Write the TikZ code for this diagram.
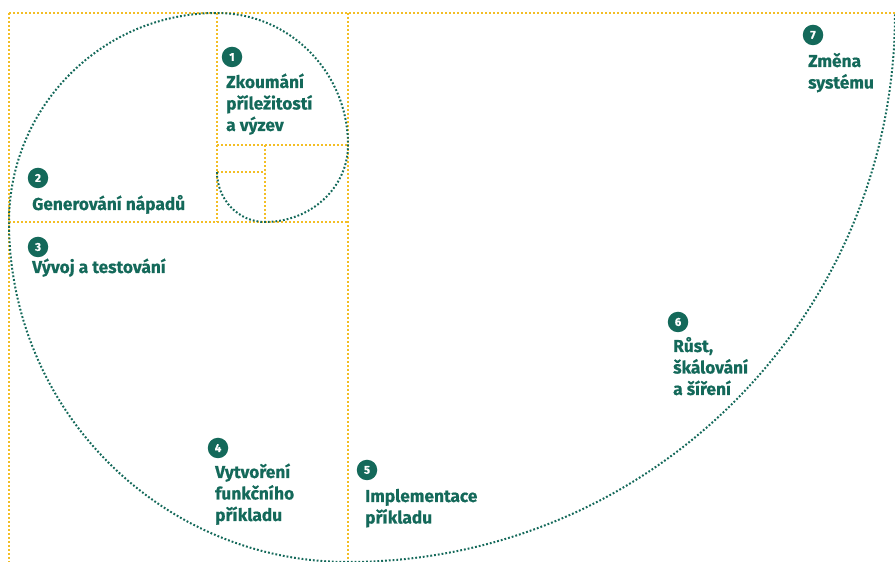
\documentclass[tikz,border=0pt]{standalone}
\usepackage{fontspec}
\setmainfont{Fira Sans}[BoldFont={Fira Sans Bold},BoldFeatures={FakeBold=0.6}]
\definecolor{dkgreen}{HTML}{14695A}
\definecolor{gold}{HTML}{F3BE25}
\newcommand{\lines}[1]{\begin{tabular}[t]{@{}l@{}}#1\end{tabular}}
\begin{document}
\begin{tikzpicture}[x=1pt,y=1pt,
  guide/.style={draw=gold, line width=2pt, dash pattern=on 1.8pt off 2.2pt},
  spiral/.style={draw=dkgreen, line width=2pt, dash pattern=on 1.8pt off 2.0pt},
  badge/.style={circle, fill=dkgreen, text=white, minimum size=20.5pt, inner sep=0pt, font=\bfseries\fontsize{11.5}{11.5}\selectfont},
  lbl/.style={anchor=base west, text=dkgreen, inner sep=0pt, font=\bfseries\fontsize{17.3}{21.5}\selectfont}]
\useasboundingbox (0,0) rectangle (895,562);
% guide coordinates
\coordinate (TL) at (9,549);
\coordinate (TR) at (895,549);
\coordinate (BL) at (9,0);
\coordinate (T217) at (217,549);
\coordinate (M217) at (217,340);
\coordinate (T348) at (348,549);
\coordinate (B348) at (348,0);
\coordinate (L340) at (9,340);
\coordinate (R340) at (348,340);
\coordinate (HaL) at (217,417);
\coordinate (HaR) at (348,417);
\coordinate (VbT) at (265,417);
\coordinate (VbB) at (265,340);
\coordinate (HcL) at (217,390);
\coordinate (HcR) at (265,390);
% guides
\draw[guide] (TL) -- (TR);
\draw[guide] (TL) -- (BL);
\draw[guide] (T217) -- (M217);
\draw[guide] (T348) -- (B348);
\draw[guide] (L340) -- (R340);
\draw[guide] (HaL) -- (HaR);
\draw[guide] (VbT) -- (VbB);
\draw[guide] (HcL) -- (HcR);
% spiral
\draw[spiral] (HcL)
  arc[start angle=180,end angle=270,x radius=48,y radius=50]
  arc[start angle=270,end angle=360,x radius=83,y radius=77]
  arc[start angle=0,end angle=90,x radius=131,y radius=132]
  arc[start angle=90,end angle=180,x radius=208,y radius=209]
  arc[start angle=180,end angle=270,x radius=339,y radius=340]
  arc[start angle=270,end angle=360,x radius=547,y radius=549];
% labels
\node[badge] (b1) at (232,505) {1};
\node[lbl] (t1) at (226,474) {\lines{Zkoumání\\příležitostí\\a výzev}};
\node[badge] (b2) at (38,384) {2};
\node[lbl] (t2) at (32,352) {Generování nápadů};
\node[badge] (b3) at (38,315) {3};
\node[lbl] (t3) at (32,289) {Vývoj a testování};
\node[badge] (b4) at (218,114) {4};
\node[lbl] (t4) at (215,84) {\lines{Vytvoření\\funkčního\\příkladu}};
\node[badge] (b5) at (367,92) {5};
\node[lbl] (t5) at (365,60) {\lines{Implementace\\příkladu}};
\node[badge] (b6) at (678,240) {6};
\node[lbl] (t6) at (673,210) {\lines{Růst,\\škálování\\a šíření}};
\node[badge] (b7) at (813,527) {7};
\node[lbl] (t7) at (808,495) {\lines{Změna\\systému}};
\end{tikzpicture}
\end{document}
